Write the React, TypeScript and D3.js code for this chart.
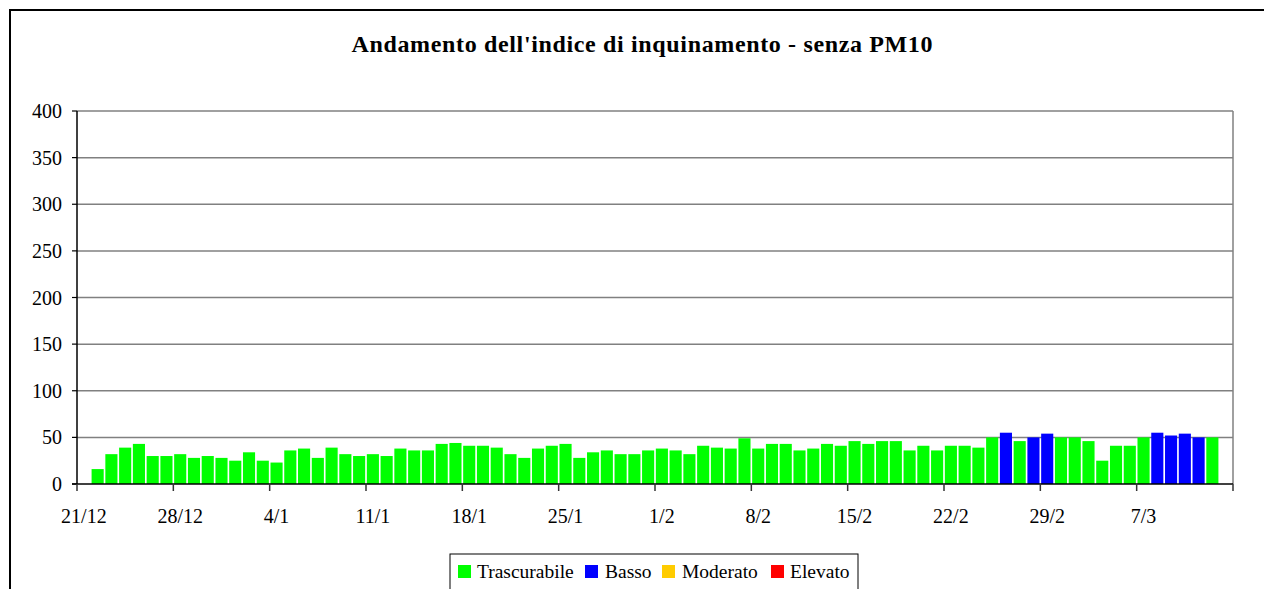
import React from "react";
import * as d3 from "d3";

const TITLE = "Andamento dell'indice di inquinamento - senza PM10";

// One slot per day, 21/12/2007 .. 13/3/2008; first and last day have no bar
const startDay = new Date(2007, 11, 21);
const endDay = new Date(2008, 2, 14);

const values: (number | null)[] = [
  null,
  16, 32, 39, 43, 30, 30, 32, 28, 30, 28,
  25, 34, 25, 23, 36, 38, 28, 39, 32, 30,
  32, 30, 38, 36, 36, 43, 44, 41, 41, 39,
  32, 28, 38, 41, 43, 28, 34, 36, 32, 32,
  36, 38, 36, 32, 41, 39, 38, 49, 38, 43,
  43, 36, 38, 43, 41, 46, 43, 46, 46, 36,
  41, 36, 41, 41, 39, 50, 55, 46, 50, 54,
  50, 50, 46, 25, 41, 41, 50, 55, 52, 54,
  50, 50,
  null,
];

// level of each slot: T = Trascurabile, B = Basso
const levels: string[] = [
  "-",
  "T", "T", "T", "T", "T", "T", "T", "T", "T", "T",
  "T", "T", "T", "T", "T", "T", "T", "T", "T", "T",
  "T", "T", "T", "T", "T", "T", "T", "T", "T", "T",
  "T", "T", "T", "T", "T", "T", "T", "T", "T", "T",
  "T", "T", "T", "T", "T", "T", "T", "T", "T", "T",
  "T", "T", "T", "T", "T", "T", "T", "T", "T", "T",
  "T", "T", "T", "T", "T", "T", "B", "T", "B", "B",
  "T", "T", "T", "T", "T", "T", "T", "B", "B", "B",
  "B", "T",
  "-",
];

const yTicks = [0, 50, 100, 150, 200, 250, 300, 350, 400];
const xTickLabels = ["21/12", "28/12", "4/1", "11/1", "18/1", "25/1", "1/2", "8/2", "15/2", "22/2", "29/2", "7/3"];

const legendNames = ["Trascurabile", "Basso", "Moderato", "Elevato"];
const legendCodes = ["T", "B", "M", "E"];
const legendColors = ["#00FF00", "#0000FF", "#FFCC00", "#FF0000"];

const W = 1264;
const H = 589;
const plot = { left: 77, right: 1233, top: 111, bottom: 484 };
const font = "'Liberation Serif', 'Times New Roman', serif";

export default function App() {
  const fmt = d3.timeFormat("%-d/%-m");
  const days = d3.timeDay.range(startDay, endDay).map((d) => fmt(d));

  const x = d3.scaleBand<string>().domain(days).range([plot.left, plot.right]).padding(0);
  const y = d3.scaleLinear().domain([0, 400]).range([plot.bottom, plot.top]);
  const step = x.step();
  const gap = step * 0.12;
  const colorOf = d3.scaleOrdinal<string, string>().domain(legendCodes).range(legendColors);

  const legendX = [458, 585, 662, 771];
  const legendTextX = [477, 605, 682, 790];

  return (
    <svg
      width={W}
      height={H}
      style={{ position: "fixed", left: 0, top: 0, background: "#fff" }}
      fontFamily={font}
    >
      <rect x={0} y={0} width={W} height={H} fill="#fff" />
      {/* outer frame */}
      <rect x={10} y={10} width={1400} height={700} fill="none" stroke="#000" strokeWidth={2} />

      <text x={642} y={52} textAnchor="middle" fontWeight="bold" fontSize={24} textLength={581} lengthAdjust="spacing">
        {TITLE}
      </text>

      {/* gridlines */}
      {yTicks.filter((t) => t > 0).map((t) => (
        <line key={t} x1={plot.left} x2={plot.right} y1={y(t)} y2={y(t)} stroke="#808080" strokeWidth={1.5} />
      ))}
      {/* right border */}
      <line x1={plot.right} x2={plot.right} y1={plot.top} y2={plot.bottom} stroke="#808080" strokeWidth={1.5} />

      {/* bars */}
      {days.map((d, i) => {
        const v = values[i];
        if (v == null) return null;
        return (
          <rect
            key={d}
            x={(x(d) as number) + gap / 2}
            width={step - gap}
            y={y(v)}
            height={y(0) - y(v)}
            fill={colorOf(levels[i])}
          />
        );
      })}

      {/* axes */}
      <line x1={plot.left} x2={plot.left} y1={plot.top} y2={plot.bottom} stroke="#000" strokeWidth={1.5} />
      <line x1={plot.left - 5} x2={plot.right} y1={plot.bottom} y2={plot.bottom} stroke="#000" strokeWidth={1.5} />
      {yTicks.map((t) => (
        <g key={t}>
          <line x1={plot.left - 5} x2={plot.left} y1={y(t)} y2={y(t)} stroke="#000" strokeWidth={1.2} />
          <text x={62} y={y(t)} dy="0.35em" textAnchor="end" fontSize={20}>
            {t}
          </text>
        </g>
      ))}
      {days.map((d, i) =>
        i % 7 === 0 ? (
          <g key={d}>
            <line x1={x(d)} x2={x(d)} y1={plot.bottom} y2={plot.bottom + 7} stroke="#333" strokeWidth={1.5} />
            <text x={(x(d) as number) + step / 2} y={523} textAnchor="middle" fontSize={20}>
              {xTickLabels[i / 7]}
            </text>
          </g>
        ) : null
      )}
      <line x1={plot.right} x2={plot.right} y1={plot.bottom} y2={plot.bottom + 7} stroke="#333" strokeWidth={1.5} />

      {/* legend */}
      <rect x={450} y={554} width={408} height={60} fill="#fff" stroke="#000" strokeWidth={1} />
      {legendNames.map((n, i) => (
        <g key={n}>
          <rect x={legendX[i]} y={565} width={13} height={13} fill={legendColors[i]} />
          <text x={legendTextX[i]} y={578} fontSize={19.5}>
            {n}
          </text>
        </g>
      ))}
    </svg>
  );
}
